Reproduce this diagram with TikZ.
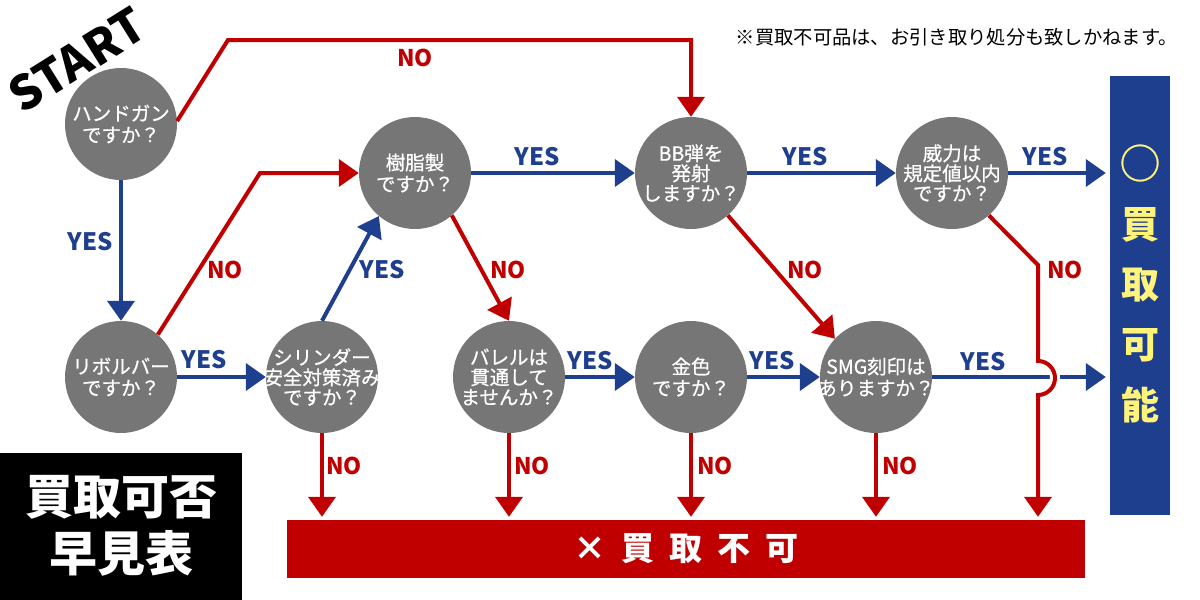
\documentclass[tikz,border=0pt]{standalone}
\usepackage{fontspec}
\setmainfont{Noto Sans CJK JP}
\newfontfamily\cjkm{Noto Sans CJK JP}[FakeBold=0.7]
\usetikzlibrary{arrows.meta}
\definecolor{myred}{RGB}{192,0,0}
\definecolor{myblue}{RGB}{30,62,142}
\definecolor{mygray}{RGB}{118,118,118}
\definecolor{myyellow}{RGB}{255,243,122}
\begin{document}
\begin{tikzpicture}[x=1pt,y=-1pt,
  q/.style={circle,fill=mygray,minimum size=112pt,inner sep=0pt},
  qt/.style={text=white,align=center,font=\cjkm\fontsize{19.5}{21.5}\selectfont,inner sep=0pt},
  qtt/.style={qt,font=\cjkm\fontsize{19.5}{20}\selectfont},
  base/.style={line width=4pt,line join=miter,-{Triangle[length=20pt,width=27pt]}},
  ya/.style={base,draw=myblue},
  na/.style={base,draw=myred},
  yl/.style={text=myblue,inner sep=0pt,font=\bfseries\fontsize{24}{24}\selectfont},
  nl/.style={text=myred,inner sep=0pt,font=\bfseries\fontsize{23}{23}\selectfont},
  okt/.style={text=myyellow,inner sep=0pt,font=\bfseries\fontsize{38}{38}\selectfont},
]
\useasboundingbox (0,0) rectangle (1200,600);
\fill[white] (0,0) rectangle (1200,600);

% boxes
\node[fill=black,minimum width=242pt,minimum height=147pt,inner sep=0pt] (titlebox) at (121,526.5) {};
\node[text=white,inner sep=0pt,font=\bfseries\fontsize{48}{48}\selectfont] (title1) at (121,497) {買取可否};
\node[text=white,inner sep=0pt,font=\bfseries\fontsize{48}{48}\selectfont] (title2) at (121,553) {早見表};

\node[fill=myred,minimum width=798pt,minimum height=58pt,inner sep=0pt,text=white,font=\bfseries\fontsize{33}{33}\selectfont] (ngbar) at (686,549) {×\hspace{15pt}買\hspace{15pt}取\hspace{15pt}不\hspace{15pt}可};

\node[fill=myblue,minimum width=60pt,minimum height=439pt,inner sep=0pt] (okbox) at (1140,295.5) {};
\node[text=myyellow,inner sep=0pt,font=\cjkm\fontsize{41}{41}\selectfont] (okmark) at (1140,163) {○};
\node[okt] (ok1) at (1140,225) {買};
\node[okt] (ok2) at (1140,285) {取};
\node[okt] (ok3) at (1140,345) {可};
\node[okt] (ok4) at (1140,405) {能};

\node[anchor=east,inner sep=0pt,font=\fontsize{19.3}{20}\selectfont] (note) at (1178,37) {※買取不可品は、お引き取り処分も致しかねます。};

\node[rotate=32,inner sep=0pt,font=\bfseries\fontsize{47}{47}\selectfont] (start) at (77,60) {START};

% circles
\node[q] (hand) at (121,124) {};
\node[q] (revo) at (121,377) {};
\node[q] (resin) at (415,173) {};
\node[q] (bb) at (691,173) {};
\node[q] (power) at (952,173) {};
\node[q] (cyl) at (322,377) {};
\node[q] (barrel) at (509,377) {};
\node[q] (gold) at (691,377) {};
\node[q] (smg) at (876,377) {};

\node[qt] (thand) at (hand) {ハンドガン\\ですか？};
\node[qt] (trevo) at (revo) {リボルバー\\ですか？};
\node[qt] (tresin) at (resin) {樹脂製\\ですか？};
\node[qtt] (tbb) at (bb) {BB弾を\\発射\\しますか？};
\node[qtt] (tpower) at (power) {威力は\\規定値以内\\ですか？};
\node[qtt] (tcyl) at (cyl) {シリンダー\\安全対策済み\\ですか？};
\node[qtt] (tbarrel) at (barrel) {バレルは\\貫通して\\ませんか？};
\node[qt] (tgold) at (gold) {金色\\ですか？};
\node[qt] (tsmg) at (smg) {SMG刻印は\\ありますか？};

\coordinate (hopx) at (1038,0);

% YES connectors
\draw[ya] (hand.south) -- (revo.north);
\draw[ya] (revo.east) -- (cyl.west);
\draw[ya] (cyl.north) -- (resin.230);
\draw[ya] (resin.east) -- (bb.west);
\draw[ya] (bb.east) -- (power.west);
\draw[ya,shorten >=4pt] (power.east) -- (okbox.west |- power.east);
\draw[ya] (barrel.east) -- (gold.west);
\draw[ya] (gold.east) -- (smg.west);
\draw[ya,shorten >=4pt] (smg.east) -- (okbox.west |- smg.east);

% NO connectors
\draw[na] (hand.3) -- (228,40) -| (bb.north);
\draw[na] (revo.49) -- (260,173) -- (resin.west);
\draw[na] (resin.311) -- (barrel.north);
\draw[na] (bb.311) -- (smg.137);
\draw[na,shorten >=3pt] (cyl.south) -- (cyl.south |- ngbar.north);
\draw[na,shorten >=3pt] (barrel.south) -- (barrel.south |- ngbar.north);
\draw[na,shorten >=3pt] (gold.south) -- (gold.south |- ngbar.north);
\draw[na,shorten >=3pt] (smg.south) -- (smg.south |- ngbar.north);
\draw[white,line width=10pt] (1038,361) arc[start angle=-90,end angle=90,radius=17];
\draw[na,shorten >=3pt] (power.311) -- (1038,265) -- (1038,361) arc[start angle=-90,end angle=90,radius=17] -- (hopx |- ngbar.north);

% labels
\node[yl] (y1) at (90,242) {YES};
\node[yl] (y2) at (204,360) {YES};
\node[yl] (y3) at (382,270) {YES};
\node[yl] (y4) at (537,157) {YES};
\node[yl] (y5) at (805,157) {YES};
\node[yl] (y6) at (1045,157) {YES};
\node[yl] (y7) at (590,361) {YES};
\node[yl] (y8) at (772,361) {YES};
\node[yl] (y9) at (983,362) {YES};

\node[nl] (n1) at (415,58) {NO};
\node[nl] (n2) at (225,270) {NO};
\node[nl] (n3) at (508,270) {NO};
\node[nl] (n4) at (805,270) {NO};
\node[nl] (n5) at (1065,270) {NO};
\node[nl] (n6) at (344,466) {NO};
\node[nl] (n7) at (532,466) {NO};
\node[nl] (n8) at (715,466) {NO};
\node[nl] (n9) at (900,466) {NO};
\end{tikzpicture}
\end{document}
